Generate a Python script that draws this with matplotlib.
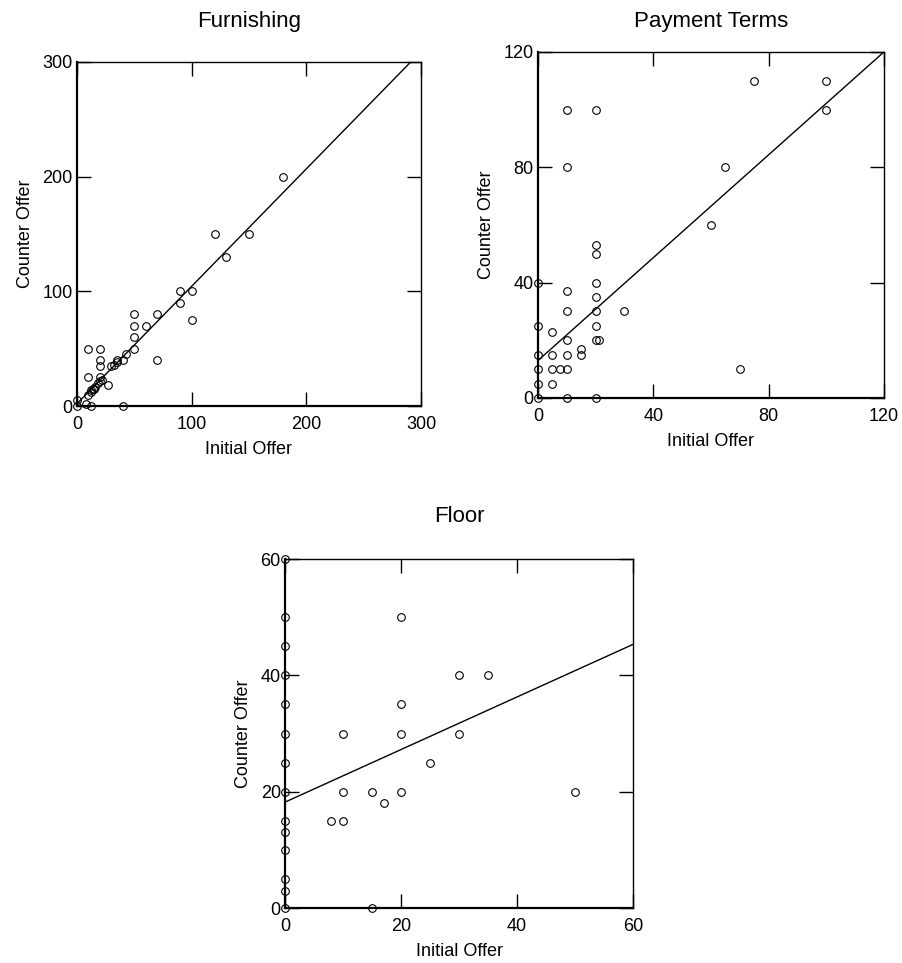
import numpy as np
import matplotlib
matplotlib.use('Agg')
import matplotlib.pyplot as plt

plt.rcParams['font.family'] = ['Liberation Sans', 'DejaVu Sans']

# Furnishing: initial offer vs counter offer
furn_x = [180, 120, 150, 130, 90, 100, 90, 100, 50, 70, 50, 60, 50, 50, 70, 43, 40, 35, 32, 30,
          35, 10, 20, 20, 20, 10, 20, 22, 18, 20, 27, 12, 14, 16, 15, 10, 12, 0, 0, 8, 12, 40]
furn_y = [200, 150, 150, 130, 100, 100, 90, 75, 80, 80, 70, 70, 60, 50, 40, 45, 40, 38, 36, 35,
          40, 50, 50, 40, 35, 25, 25, 23, 20, 22, 18, 14, 15, 17, 15, 10, 12, 5, 0, 2, 0, 0]
furn_fit = (2.0, 1.024)  # intercept, slope

# Payment Terms
pay_x = [10, 20, 10, 75, 100, 100, 65, 60, 20, 20, 20, 20, 20, 20, 20, 21, 30, 10, 10, 10,
         10, 10, 7.5, 5, 5, 5, 5, 15, 15, 0, 0, 0, 0, 0, 0, 10, 20, 70]
pay_y = [100, 100, 80, 110, 110, 100, 80, 60, 53, 50, 40, 35, 30, 25, 20, 20, 30, 37, 30, 20,
         15, 10, 10, 10, 15, 23, 5, 17, 15, 40, 25, 15, 10, 5, 0, 0, 0, 10]
pay_fit = (13.0, 0.892)

# Floor
floor_x = [0, 0, 0, 0, 0, 0, 0, 0, 0, 0, 0, 0, 0, 0, 20, 30, 35, 20, 20, 10, 30, 25, 10, 15,
           20, 17, 8, 10, 50, 15]
floor_y = [60, 50, 45, 40, 35, 30, 25, 20, 15, 13, 10, 5, 3, 0, 50, 40, 40, 35, 30, 30, 30, 25,
           20, 20, 20, 18, 15, 15, 20, 0]
floor_fit = (18.2, 0.452)

W, H = 903, 963
fig = plt.figure(figsize=(W / 100, H / 100), dpi=100)


def make_panel(box, title, title_xy, xs, ys, fit, lim, ticks):
    l, t, r, b = box
    ax = fig.add_axes([l / W, 1 - b / H, (r - l) / W, (b - t) / H])
    ax.plot(xs, ys, 'o', mfc='none', mec='black', ms=5.5, mew=0.8, clip_on=False, zorder=3)
    line_x = np.array([0, lim])
    line_y = fit[0] + fit[1] * line_x
    ax.plot(line_x, line_y, color='black', lw=1.0)
    ax.set_xlim(0, lim)
    ax.set_ylim(0, lim)
    ax.set_xticks(ticks)
    ax.set_yticks(ticks)
    ax.tick_params(direction='in', top=True, right=True, length=10, width=1, labelsize=13)
    ax.tick_params(axis='x', pad=7)
    ax.tick_params(axis='y', pad=3)
    for side in ['left', 'bottom']:
        ax.spines[side].set_linewidth(1.6)
    for side in ['top', 'right']:
        ax.spines[side].set_linewidth(1.0)
    ax.set_xlabel('Initial Offer', fontsize=13, labelpad=6)
    ax.set_ylabel('Counter Offer', fontsize=13, labelpad=6)
    fig.text(title_xy[0] / W, 1 - title_xy[1] / H, title, fontsize=16,
             ha='center', va='center')
    return ax


make_panel((77, 62, 421, 406), 'Furnishing', (249, 22), furn_x, furn_y, furn_fit,
           300, [0, 100, 200, 300])
make_panel((538, 52, 884, 398), 'Payment Terms', (711, 22), pay_x, pay_y, pay_fit,
           120, [0, 40, 80, 120])
make_panel((285, 559, 633, 908), 'Floor', (459, 517), floor_x, floor_y, floor_fit,
           60, [0, 20, 40, 60])

fig.savefig('out.png', dpi=100)
